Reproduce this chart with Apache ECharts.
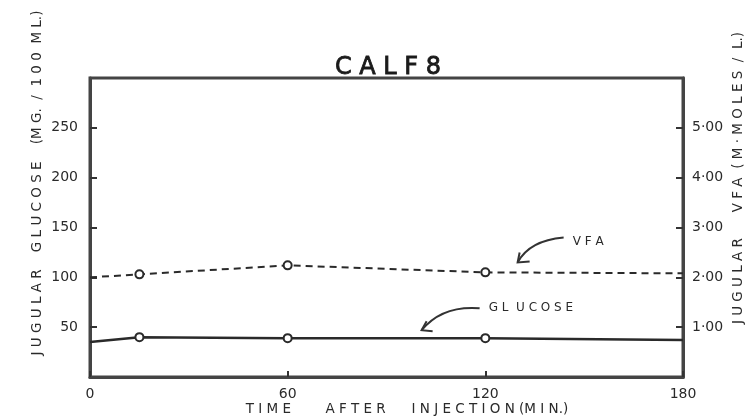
<!DOCTYPE html>
<html>
<head>
<meta charset="utf-8">
<script src="https://cdn.jsdelivr.net/npm/echarts@6/dist/echarts.min.js"></script>
<style>
  html, body { margin: 0; padding: 0; background: #fff; }
  #chart { width: 746px; height: 420px; }
</style>
</head>
<body>
<div id="chart"></div>
<script>
// time after injection (min.)
const times = [0, 15, 60, 120, 180];
// jugular glucose, mg/100 ml
const glucose = [35, 40, 39, 39, 37];
// jugular VFA, m-moles/L
const vfa = [2.00, 2.06, 2.24, 2.10, 2.08];
// which points have an open circle drawn
const marked = [false, true, true, true, false];

const xTicks = [0, 60, 120, 180];
const font = '"DejaVu Sans", sans-serif';
const ink = '#2a2a2a';

const toData = (vals) => vals.map((v, i) => ({
  value: [times[i], v],
  symbol: marked[i] ? 'circle' : 'none'
}));

const chartDom = document.getElementById('chart');
const myChart = echarts.init(chartDom);

const option = {
  backgroundColor: '#fff',
  animation: false,
  grid: {
    left: 90, right: 63, top: 78, bottom: 43,
    show: true, borderColor: '#444', borderWidth: 3
  },
  xAxis: {
    type: 'value', min: 0, max: 180, interval: 60,
    splitLine: { show: false },
    axisLine: { lineStyle: { color: '#444', width: 3 } },
    axisTick: { inside: true, length: 6, lineStyle: { color: '#333', width: 2 } },
    axisLabel: {
      color: '#2a2a2a', fontFamily: font, fontSize: 14, margin: 10,
      formatter: (v) => xTicks.includes(v) ? String(v) : ''
    }
  },
  yAxis: [
    {
      type: 'value', min: 0, max: 300, interval: 50,
      splitLine: { show: false },
      axisLine: { lineStyle: { color: '#444', width: 3 } },
      axisTick: { inside: true, length: 7, lineStyle: { color: '#333', width: 2 } },
      axisLabel: {
        color: '#2a2a2a', fontFamily: font, fontSize: 14, margin: 12,
        showMinLabel: false, showMaxLabel: false
      }
    },
    {
      type: 'value', min: 0, max: 6, interval: 1, position: 'right',
      splitLine: { show: false },
      axisLine: { lineStyle: { color: '#444', width: 3 } },
      axisTick: { inside: true, length: 7, lineStyle: { color: '#333', width: 2 } },
      axisLabel: {
        color: '#2a2a2a', fontFamily: font, fontSize: 14, margin: 9,
        showMinLabel: false, showMaxLabel: false,
        formatter: (v) => v.toFixed(2).replace('.', '·')
      }
    }
  ],
  series: [
    {
      name: 'GLUCOSE', type: 'line', yAxisIndex: 0,
      data: toData(glucose),
      symbolSize: 8,
      itemStyle: { color: '#fff', borderColor: ink, borderWidth: 2 },
      lineStyle: { color: ink, width: 2.5 }
    },
    {
      name: 'VFA', type: 'line', yAxisIndex: 1,
      data: toData(vfa),
      symbolSize: 8,
      itemStyle: { color: '#fff', borderColor: ink, borderWidth: 2 },
      lineStyle: { color: ink, width: 2, type: [7, 5] }
    }
  ]
};
myChart.setOption(option);

// annotations anchored to data positions
const px = (x, y) => myChart.convertToPixel({ xAxisIndex: 0, yAxisIndex: 0 }, [x, y]);
const V = px(146.5, 136);
const G = px(121, 69);

const arrow = (p0, c1, c2, tip, a1, a2) => [
  {
    type: 'bezierCurve',
    shape: { x1: p0[0], y1: p0[1], cpx1: c1[0], cpy1: c1[1], cpx2: c2[0], cpy2: c2[1], x2: tip[0], y2: tip[1] },
    style: { stroke: '#333', lineWidth: 2, fill: null }
  },
  {
    type: 'polyline',
    shape: { points: [a1, tip, a2] },
    style: { stroke: '#333', lineWidth: 2, fill: null }
  }
];

myChart.setOption({
  graphic: [
    {
      type: 'text', x: 388, y: 68,
      style: { text: 'C A L F 8', font: '24px ' + font, fill: '#1a1a1a', stroke: '#1a1a1a', lineWidth: 0.8, align: 'center', verticalAlign: 'middle' }
    },
    {
      type: 'text', x: 407, y: 409,
      style: { text: 'T I M E        A F T E R      I N J E C T I O N (M I N.)', font: '13.5px ' + font, fill: '#2a2a2a', align: 'center', verticalAlign: 'middle' }
    },
    {
      type: 'text', x: 37, y: 183, rotation: Math.PI / 2,
      style: { text: 'J U G U L A R    G L U C O S E    (M G.  /  1 0 0  M L.)', font: '13.5px ' + font, fill: '#2a2a2a', align: 'center', verticalAlign: 'middle' }
    },
    {
      type: 'text', x: 738, y: 178, rotation: Math.PI / 2,
      style: { text: 'J U G U L A R      V F A  ( M · M O L E S  /  L.)', font: '13.5px ' + font, fill: '#2a2a2a', align: 'center', verticalAlign: 'middle' }
    },
    {
      type: 'text', x: V[0], y: V[1],
      style: { text: 'V F A', font: '12px ' + font, fill: '#2a2a2a', verticalAlign: 'middle' }
    },
    {
      type: 'text', x: G[0], y: G[1],
      style: { text: 'G L  U C O S E', font: '12px ' + font, fill: '#2a2a2a', verticalAlign: 'middle' }
    },
    ...arrow([V[0] - 9, V[1] - 4], [V[0] - 32, V[1] - 2], [V[0] - 47, V[1] + 6], [V[0] - 55, V[1] + 21],
             [V[0] - 53, V[1] + 11], [V[0] - 43, V[1] + 20]),
    ...arrow([G[0] - 9, G[1]], [G[0] - 34, G[1] - 2], [G[0] - 54, G[1] + 6], [G[0] - 67, G[1] + 22],
             [G[0] - 62, G[1] + 13], [G[0] - 56, G[1] + 23])
  ]
});
</script>
</body>
</html>
